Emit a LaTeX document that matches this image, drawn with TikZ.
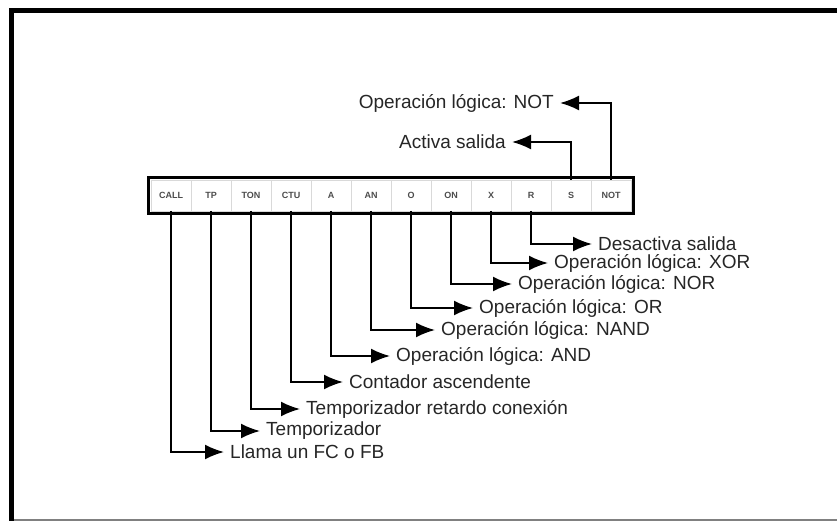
\documentclass[tikz,border=0pt]{standalone}
\usepackage{fontspec}
\setmainfont{Liberation Sans}
\usetikzlibrary{positioning,fit,arrows.meta}

\tikzset{
  cell/.style={draw=gray!30, minimum width=40pt, minimum height=31pt,
    inner sep=0pt, outer sep=0pt, text=gray!60!black,
    font=\fontsize{9}{9}\selectfont\bfseries},
  lbl/.style={font=\fontsize{19}{21}\selectfont, text=black!85, inner sep=6pt},
  link/.style={->, line width=1.9pt},
}

\begin{document}
\begin{tikzpicture}[x=1pt, y=-1pt, >={Latex[length=19pt,width=15pt]}]
  \useasboundingbox (0,0) rectangle (837,521);
  % page frame
  \draw[line width=5pt] (11.5,521) -- (11.5,10.5) -- (837,10.5);
  \draw[gray, line width=2pt] (14,520) -- (837,520);

  % instruction bar
  \node[cell] (call) at (171,195.5) {CALL};
  \node[cell, right=0pt of call] (tp) {TP};
  \node[cell, right=0pt of tp] (ton) {TON};
  \node[cell, right=0pt of ton] (ctu) {CTU};
  \node[cell, right=0pt of ctu] (and) {A};
  \node[cell, right=0pt of and] (nand) {AN};
  \node[cell, right=0pt of nand] (or) {O};
  \node[cell, right=0pt of or] (nor) {ON};
  \node[cell, right=0pt of nor] (xor) {X};
  \node[cell, right=0pt of xor] (reset) {R};
  \node[cell, right=0pt of reset] (set) {S};
  \node[cell, right=0pt of set] (not) {NOT};
  \node[draw, line width=3pt, inner sep=2.5pt, fit=(call)(not)] (bar) {};

  % descriptions
  \node[lbl, anchor=east] (notlbl) at (560,103) {Operación lógica: NOT};
  \node[lbl, anchor=east] (setlbl) at (512,142) {Activa salida};
  \node[lbl, anchor=west] (resetlbl) at (592,244) {Desactiva salida};
  \node[lbl, anchor=west] (xorlbl) at (548,263) {Operación lógica: XOR};
  \node[lbl, anchor=west] (norlbl) at (512,284) {Operación lógica: NOR};
  \node[lbl, anchor=west] (orlbl) at (473,308) {Operación lógica: OR};
  \node[lbl, anchor=west] (nandlbl) at (435,330) {Operación lógica: NAND};
  \node[lbl, anchor=west] (andlbl) at (390,356) {Operación lógica: AND};
  \node[lbl, anchor=west] (ctulbl) at (343,382) {Contador ascendente};
  \node[lbl, anchor=west] (tonlbl) at (300,409) {Temporizador retardo conexión};
  \node[lbl, anchor=west] (tplbl) at (260,431) {Temporizador};
  \node[lbl, anchor=west] (calllbl) at (224,452) {Llama un FC o FB};

  \draw[link] (not) |- (notlbl);
  \draw[link] (set) |- (setlbl);
  \draw[link] (reset) |- (resetlbl);
  \draw[link] (xor) |- (xorlbl);
  \draw[link] (nor) |- (norlbl);
  \draw[link] (or) |- (orlbl);
  \draw[link] (nand) |- (nandlbl);
  \draw[link] (and) |- (andlbl);
  \draw[link] (ctu) |- (ctulbl);
  \draw[link] (ton) |- (tonlbl);
  \draw[link] (tp) |- (tplbl);
  \draw[link] (call) |- (calllbl);
\end{tikzpicture}
\end{document}
